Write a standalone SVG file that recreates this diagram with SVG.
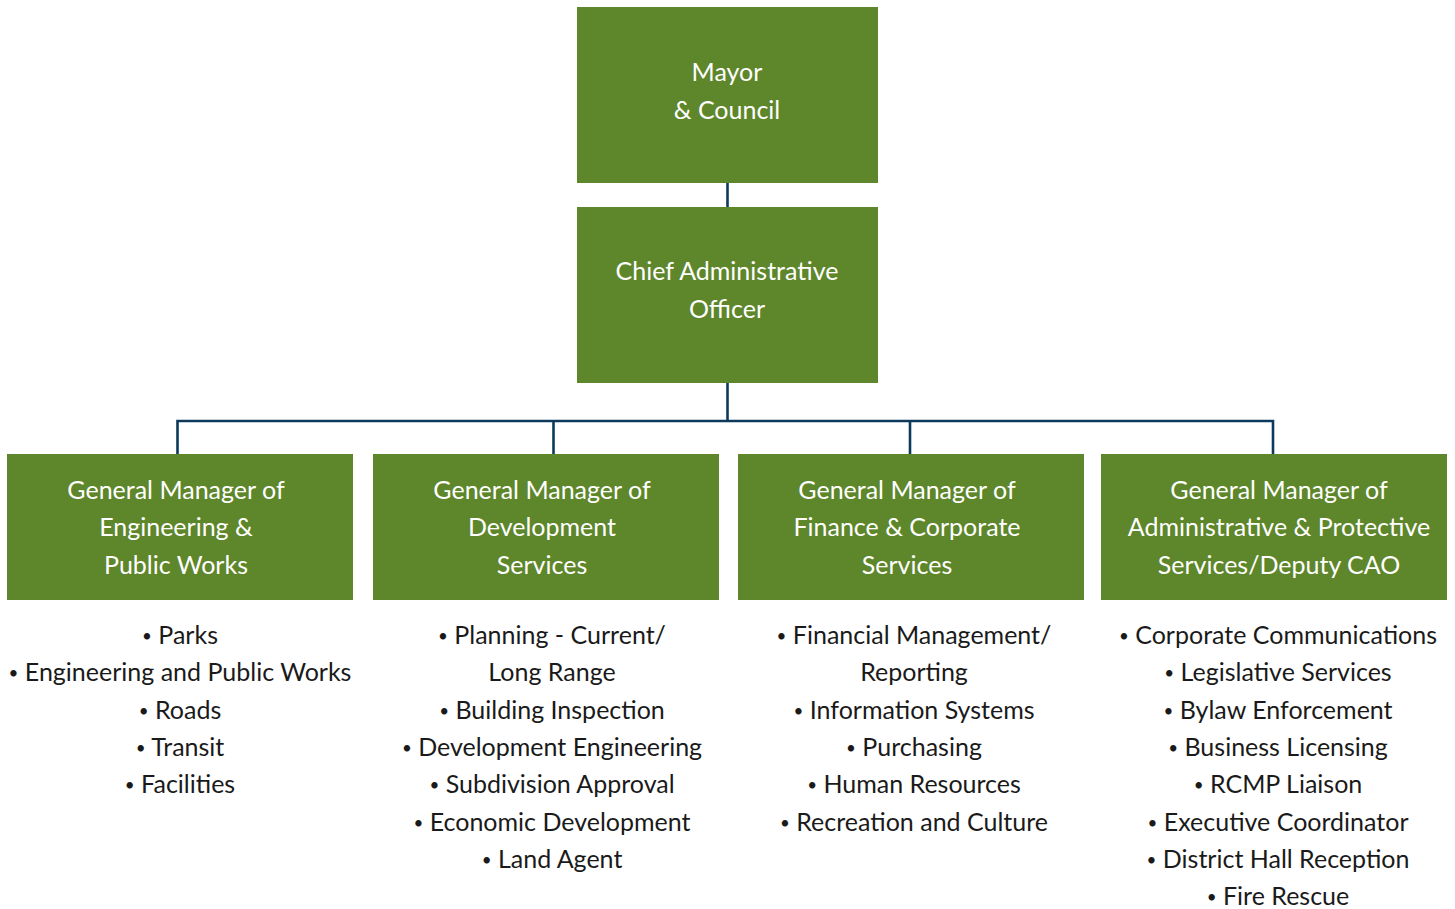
<svg xmlns="http://www.w3.org/2000/svg" width="1455" height="909" viewBox="0 0 1455 909">
<style>
.box{fill:#5e862a}
.bt{font-family:Lato,"Open Sans",sans-serif;font-size:25px;fill:#ffffff;text-anchor:middle}
.li{font-family:Lato,"Open Sans",sans-serif;font-size:25px;fill:#1a1a1a;text-anchor:middle}
.b{font-size:17px;baseline-shift:2px}
.con{fill:none;stroke:#0d3a5c;stroke-width:2.6}
</style>
<rect width="1455" height="909" fill="#ffffff"/>
<g id="connectors">
<line class="con" x1="727.5" y1="183" x2="727.5" y2="207"/>
<line class="con" x1="727.5" y1="383" x2="727.5" y2="421"/>
<polyline class="con" points="177.5,454 177.5,421 1273,421 1273,454"/>
<line class="con" x1="553.5" y1="421" x2="553.5" y2="454"/>
<line class="con" x1="910" y1="421" x2="910" y2="454"/>
</g>
<g id="mayor">
<rect class="box" x="577" y="7" width="301" height="176"/>
<text class="bt" x="727" y="81">Mayor</text>
<text class="bt" x="727" y="118.5">&amp; Council</text>
</g>
<g id="cao">
<rect class="box" x="577" y="207" width="301" height="176"/>
<text class="bt" x="727" y="280">Chief Administrative</text>
<text class="bt" x="727" y="317.5">Officer</text>
</g>
<g id="gm-engineering">
<rect class="box" x="7" y="454" width="346" height="146"/>
<text class="bt" x="176" y="499">General Manager of</text>
<text class="bt" x="176" y="536">Engineering &amp;</text>
<text class="bt" x="176" y="573.5">Public Works</text>
</g>
<g id="gm-development">
<rect class="box" x="373" y="454" width="346" height="146"/>
<text class="bt" x="542" y="499">General Manager of</text>
<text class="bt" x="542" y="536">Development</text>
<text class="bt" x="542" y="573.5">Services</text>
</g>
<g id="gm-finance">
<rect class="box" x="738" y="454" width="346" height="146"/>
<text class="bt" x="907" y="499">General Manager of</text>
<text class="bt" x="907" y="536">Finance &amp; Corporate</text>
<text class="bt" x="907" y="573.5">Services</text>
</g>
<g id="gm-admin">
<rect class="box" x="1101" y="454" width="346" height="146"/>
<text class="bt" x="1279" y="499">General Manager of</text>
<text class="bt" x="1279" y="536">Administrative &amp; Protective</text>
<text class="bt" x="1279" y="573.5">Services/Deputy CAO</text>
</g>
<g id="list-engineering">
<text class="li" x="180" y="644"><tspan class="b">•</tspan> Parks</text>
<text class="li" x="180" y="681"><tspan class="b">•</tspan> Engineering and Public Works</text>
<text class="li" x="180" y="719"><tspan class="b">•</tspan> Roads</text>
<text class="li" x="180" y="756"><tspan class="b">•</tspan> Transit</text>
<text class="li" x="180" y="793"><tspan class="b">•</tspan> Facilities</text>
</g>
<g id="list-development">
<text class="li" x="552" y="644"><tspan class="b">•</tspan> Planning - Current/</text>
<text class="li" x="552" y="681">Long Range</text>
<text class="li" x="552" y="719"><tspan class="b">•</tspan> Building Inspection</text>
<text class="li" x="552" y="756"><tspan class="b">•</tspan> Development Engineering</text>
<text class="li" x="552" y="793"><tspan class="b">•</tspan> Subdivision Approval</text>
<text class="li" x="552" y="831"><tspan class="b">•</tspan> Economic Development</text>
<text class="li" x="552" y="868"><tspan class="b">•</tspan> Land Agent</text>
</g>
<g id="list-finance">
<text class="li" x="914" y="644"><tspan class="b">•</tspan> Financial Management/</text>
<text class="li" x="914" y="681">Reporting</text>
<text class="li" x="914" y="719"><tspan class="b">•</tspan> Information Systems</text>
<text class="li" x="914" y="756"><tspan class="b">•</tspan> Purchasing</text>
<text class="li" x="914" y="793"><tspan class="b">•</tspan> Human Resources</text>
<text class="li" x="914" y="831"><tspan class="b">•</tspan> Recreation and Culture</text>
</g>
<g id="list-admin">
<text class="li" x="1278" y="644"><tspan class="b">•</tspan> Corporate Communications</text>
<text class="li" x="1278" y="681"><tspan class="b">•</tspan> Legislative Services</text>
<text class="li" x="1278" y="719"><tspan class="b">•</tspan> Bylaw Enforcement</text>
<text class="li" x="1278" y="756"><tspan class="b">•</tspan> Business Licensing</text>
<text class="li" x="1278" y="793"><tspan class="b">•</tspan> RCMP Liaison</text>
<text class="li" x="1278" y="831"><tspan class="b">•</tspan> Executive Coordinator</text>
<text class="li" x="1278" y="868"><tspan class="b">•</tspan> District Hall Reception</text>
<text class="li" x="1278" y="905"><tspan class="b">•</tspan> Fire Rescue</text>
</g>
</svg>
